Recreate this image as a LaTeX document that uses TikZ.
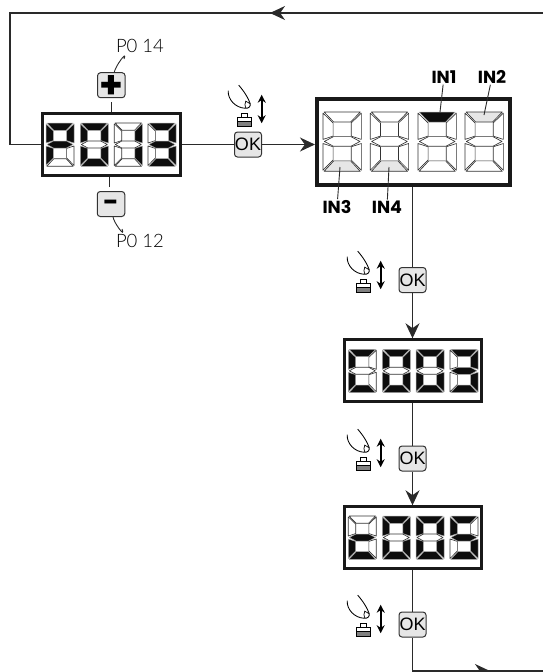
\documentclass[tikz,border=0pt]{standalone}
\usepackage{fontspec}
\usetikzlibrary{arrows.meta}
\setmainfont{Liberation Sans}
\newfontfamily\labfont{Poppins}
\newfontfamily\lcdfont{Lato Light}
\definecolor{keygray}{HTML}{E6E6E6}
\definecolor{wire}{HTML}{2A2A2A}
\tikzset{
  K/.style={fill=black!95,draw=black!35,line width=0.5pt},
  W/.style={fill=white,draw=black!80,line width=0.65pt},
  G/.style={fill=keygray,draw=black!80,line width=0.65pt},
  disp/.style={draw=black!90,fill=white,inner sep=0pt},
  okkey/.style={draw=black!80,fill=keygray,rounded corners=3pt,line width=1pt,inner sep=0pt,
    minimum width=27pt,minimum height=25pt,font=\fontsize{18}{18}\selectfont},
  signkey/.style={okkey,minimum width=27.5pt,font=\labfont\bfseries\fontsize{38}{38}\selectfont},
  flow/.style={wire,line width=1.2pt},
  thinw/.style={wire,line width=0.9pt},
  inlab/.style={font=\labfont\bfseries\fontsize{17.5}{18}\selectfont,inner sep=1pt},
  lcdlab/.style={font=\lcdfont\fontsize{18.5}{19}\selectfont,inner sep=0pt}
}
% seven segments: a b c d e f g
\def\sega{(0.8,0)--(27.2,0)--(20.2,7.3)--(7.8,7.3)--cycle}
\def\segb{(28,0.8)--(28,20)--(20.6,17.6)--(20.6,8)--cycle}
\def\segc{(28,42.5)--(28,23)--(20.6,25.4)--(20.6,35)--cycle}
\def\segd{(0.8,43.3)--(27.2,43.3)--(20.2,35.7)--(7.8,35.7)--cycle}
\def\sege{(0,42.5)--(0,23)--(7.4,25.4)--(7.4,35)--cycle}
\def\segf{(0,0.8)--(0,20)--(7.4,17.6)--(7.4,8)--cycle}
\def\segg{(1,21.5)--(7.6,18)--(20.4,18)--(27,21.5)--(20.4,25)--(7.6,25)--cycle}
\newcommand{\dgt}[4]{%
  \begin{scope}[shift={(#1,#2)},scale=#3]
    \foreach \st/\pts in {#4} {\draw[\st,line join=round] \pts;}
  \end{scope}}
\newcommand{\dgtP}[3]{\dgt{#1}{#2}{#3}{K/\sega,K/\segb,W/\segc,W/\segd,K/\sege,K/\segf,K/\segg}}
\newcommand{\dgtO}[3]{\dgt{#1}{#2}{#3}{K/\sega,K/\segb,K/\segc,K/\segd,K/\sege,K/\segf,W/\segg}}
\newcommand{\dgtI}[3]{\dgt{#1}{#2}{#3}{W/\sega,K/\segb,K/\segc,W/\segd,W/\sege,W/\segf,W/\segg}}
\newcommand{\dgtT}[3]{\dgt{#1}{#2}{#3}{K/\sega,K/\segb,K/\segc,K/\segd,W/\sege,W/\segf,K/\segg}}
\newcommand{\dgtC}[3]{\dgt{#1}{#2}{#3}{K/\sega,W/\segb,W/\segc,K/\segd,K/\sege,K/\segf,W/\segg}}
\newcommand{\dgtc}[3]{\dgt{#1}{#2}{#3}{W/\sega,W/\segb,W/\segc,K/\segd,K/\sege,W/\segf,K/\segg}}
\newcommand{\dgtF}[3]{\dgt{#1}{#2}{#3}{K/\sega,W/\segb,K/\segc,K/\segd,W/\sege,K/\segf,K/\segg}}
% finger, key and double arrow; origin at lower left of the key
\newcommand{\pressicon}[2]{%
  \begin{scope}[shift={(#1,#2)}]
    \draw[black,line width=0.85pt] (-9.5,-36) .. controls (-10,-27) and (-2,-19) .. (7,-18.5)
      .. controls (11,-18) and (13,-20) .. (12.5,-23) .. controls (11,-28) and (6,-36) .. (1,-41.5);
    \draw[black,line width=0.7pt] (12.5,-23) -- (8,-25.5) .. controls (7,-23) and (7,-21) .. (8,-18.8);
    \draw[black,fill=white,line width=1pt] (4.2,-13.2) rectangle (10,-9);
    \fill[black!50] (0,-5) rectangle (14,0);
    \draw[black,line width=1.1pt] (0,-9) rectangle (14,0) (0,-5) -- (14,-5);
    \draw[black,line width=1.6pt,{Stealth[length=8pt,width=8pt]}-{Stealth[length=8pt,width=8pt]}] (24,-32) -- (24,-3.5);
  \end{scope}}
\begin{document}
\begin{tikzpicture}[x=1pt,y=-1pt,>={Stealth[length=15pt,width=14pt]}]
  \useasboundingbox (0,0) rectangle (543,672);
  \coordinate (topR) at (543,13);
  \coordinate (topL) at (10,13);
  \coordinate (topT) at (270,13);
  \coordinate (leftM) at (10,144.5);
  \coordinate (botL) at (412.5,671);
  \coordinate (botT) at (490,671);
  \coordinate (botR) at (543,671);
  \coordinate (plusE) at (111.5,102);
  \coordinate (plusC) at (124,59);
  \coordinate (minusE) at (109,187);
  \coordinate (minusC) at (122,229);
  \coordinate (in1E) at (440,112);
  \coordinate (in2E) at (484,115);
  \coordinate (in3E) at (340,167);
  \coordinate (in4E) at (389,167);

  \node[disp,line width=3pt,minimum width=138pt,minimum height=61.4pt] (disp1) at (111.2,144.5) {};
  \node[disp,line width=4pt,minimum width=192.7pt,minimum height=86pt] (disp2) at (413.3,141.7) {};
  \node[disp,line width=3pt,minimum width=137.6pt,minimum height=62pt] (disp3) at (413,370.8) {};
  \node[disp,line width=3pt,minimum width=137.6pt,minimum height=62pt] (disp4) at (413,537.8) {};

  \node[okkey] (ok1) at (248,144.5) {OK};
  \node[okkey] (ok2) at (412.5,280) {OK};
  \node[okkey] (ok3) at (412.5,458.5) {OK};
  \node[okkey] (ok4) at (412.5,624.5) {OK};
  \node[signkey] (plus) at (111.3,85.2) {\raisebox{-0.34em}[0pt][0pt]{+}};
  \node[signkey,font=\labfont\bfseries\fontsize{27}{27}\selectfont] (minus) at (111,204) {\raisebox{-0.28em}[0pt][0pt]{-}};

  \node[lcdlab] (p14) at (140,46) {P0 14};
  \node[lcdlab] (p12) at (140,241) {P0 12};
  \node[inlab] (in1) at (444,77) {IN1};
  \node[inlab] (in2) at (492,77) {IN2};
  \node[inlab] (in3) at (337,207) {IN3};
  \node[inlab] (in4) at (387,207) {IN4};

  \draw[flow] (topR) -- (topL) -- (leftM) -- (disp1.west);
  \draw[flow,->] (topR) -- (topT);
  \draw[flow] (disp1.east) -- (ok1);
  \draw[flow,->] (ok1) -- (ok1 -| disp2.west);
  \draw[flow] (disp2.south -| ok2) -- (ok2);
  \draw[flow,->] (ok2) -- (ok2 |- disp3.north);
  \draw[flow] (disp3.south -| ok2) -- (ok3);
  \draw[flow,->] (ok3) -- (ok3 |- disp4.north);
  \draw[flow] (disp4.south -| ok2) -- (ok4);
  \draw[flow] (ok4) -- (botL) -- (botR);
  \draw[flow,->] (botL) -- (botT);

  \draw[thinw] (plusE) -- (disp1.north -| plusE);
  \draw[thinw] (minusE) -- (disp1.south -| minusE);
  \draw[thinw] (plus.north) ++(3,0) .. controls +(1,-6) and +(4,-10) .. (plusC);
  \draw[thinw] (minus.south) ++(2,0) .. controls +(1,6) and +(4,10) .. (minusC);

  \dgtP{46}{123}{1} \dgtO{80.3}{123}{1} \dgtI{114.3}{123}{1} \dgtT{148}{123}{1}

  \dgt{323}{112}{1.37}{W/\sega,W/\segb,W/\segc,G/\segd,W/\sege,W/\segf,W/\segg}
  \dgt{370.3}{112}{1.37}{W/\sega,W/\segb,W/\segc,G/\segd,W/\sege,W/\segf,W/\segg}
  \dgt{418}{112}{1.37}{K/\sega,W/\segb,W/\segc,W/\segd,W/\sege,W/\segf,W/\segg}
  \dgt{465}{112}{1.37}{G/\sega,W/\segb,W/\segc,W/\segd,W/\sege,W/\segf,W/\segg}

  \dgtC{348.3}{349.3}{1} \dgtO{382.3}{349.3}{1} \dgtO{416}{349.3}{1} \dgtT{450}{349.3}{1}
  \dgtc{348.3}{516}{1} \dgtO{382.3}{516}{1} \dgtO{416}{516}{1} \dgtF{450}{516}{1}

  \draw[thinw] (in1) -- (in1E);
  \draw[thinw] (in2) -- (in2E);
  \draw[thinw] (in3) -- (in3E);
  \draw[thinw] (in4) -- (in4E);

  \pressicon{237.7}{126.7}
  \pressicon{356.7}{292.7}
  \pressicon{356.7}{470.7}
  \pressicon{356.7}{636.7}
\end{tikzpicture}
\end{document}
